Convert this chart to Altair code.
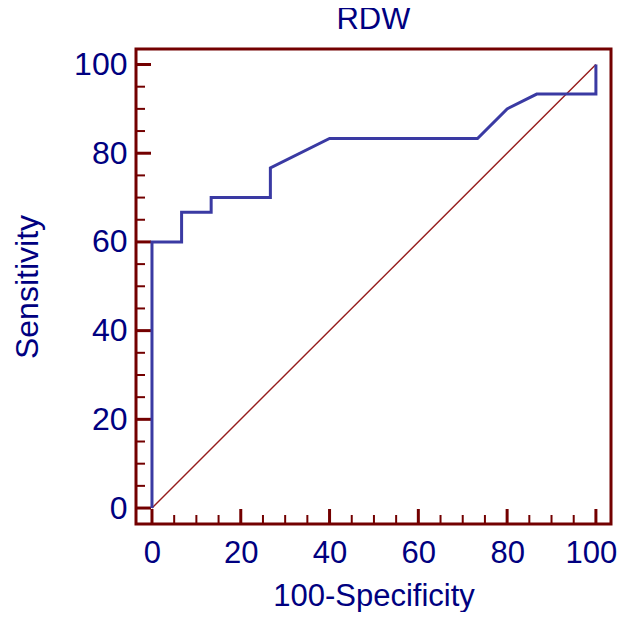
import altair as alt
import pandas as pd

# ROC curve points (100-Specificity, Sensitivity)
fpr = [0, 0, 6.67, 6.67, 13.33, 13.33, 26.67, 26.67, 40, 73.33, 80, 86.67, 100, 100]
tpr = [0, 60, 60, 66.67, 66.67, 70, 70, 76.67, 83.33, 83.33, 90, 93.33, 93.33, 100]
diag_x = [0, 100]
diag_y = [0, 100]
major_ticks = [0, 20, 40, 60, 80, 100]
minor_ticks = [5, 10, 15, 25, 30, 35, 45, 50, 55, 65, 70, 75, 85, 90, 95]

NAVY = "#000080"
MAROON = "#730000"
DIAG = "#961C1C"
BLUE = "#3A3AA3"
FONT = "Liberation Sans"
W, H = 475, 475

roc = pd.DataFrame({"x": fpr, "y": tpr, "o": list(range(len(fpr)))})
diag = pd.DataFrame({"x": diag_x, "y": diag_y})
maj = pd.DataFrame({"t": major_ticks})
mnr = pd.DataFrame({"t": minor_ticks})

xs = alt.Scale(domain=[-3.6, 103.4], nice=False, zero=False)
ys = alt.Scale(domain=[-3.6, 103.5], nice=False, zero=False)

xaxis = alt.Axis(values=major_ticks, title="100-Specificity", ticks=False, tickSize=0,
                 domain=False, grid=False, labelFont=FONT, labelFontSize=31,
                 labelColor=NAVY, labelPadding=14,
                 labelOffset={"condition": {"test": "datum.value == 100", "value": -5}, "value": 0},
                 titleFont=FONT, titleFontSize=31,
                 titleFontWeight="normal", titleColor=NAVY, titlePadding=13)
yaxis = alt.Axis(values=major_ticks, title="Sensitivity", ticks=False, tickSize=0,
                 domain=False, grid=False, labelFont=FONT, labelFontSize=32,
                 labelColor=NAVY, labelPadding=9, titleFont=FONT, titleFontSize=32,
                 titleFontWeight="normal", titleColor=NAVY, titlePadding=29)

diag_line = alt.Chart(diag).mark_line(color=DIAG, strokeWidth=1.4).encode(
    x=alt.X("x:Q", scale=xs, axis=xaxis),
    y=alt.Y("y:Q", scale=ys, axis=yaxis),
)
roc_line = alt.Chart(roc).mark_line(color=BLUE, strokeWidth=3).encode(
    x=alt.X("x:Q", scale=xs),
    y=alt.Y("y:Q", scale=ys),
    order="o:Q",
)
x_major = alt.Chart(maj).mark_rule(color=MAROON, strokeWidth=3).encode(
    x=alt.X("t:Q", scale=xs), y=alt.value(H), y2=alt.value(H - 15))
x_minor = alt.Chart(mnr).mark_rule(color=MAROON, strokeWidth=2).encode(
    x=alt.X("t:Q", scale=xs), y=alt.value(H), y2=alt.value(H - 9))
y_major = alt.Chart(maj).mark_rule(color=MAROON, strokeWidth=3).encode(
    y=alt.Y("t:Q", scale=ys), x=alt.value(0), x2=alt.value(15))
y_minor = alt.Chart(mnr).mark_rule(color=MAROON, strokeWidth=2).encode(
    y=alt.Y("t:Q", scale=ys), x=alt.value(0), x2=alt.value(9))

chart = alt.layer(diag_line, x_minor, x_major, y_minor, y_major, roc_line).properties(
    width=W, height=H,
    title=alt.TitleParams("RDW", font=FONT, fontSize=31, fontWeight="normal",
                          color=NAVY, anchor="middle", offset=13),
    autosize=alt.AutoSizeParams(type="none"),
    padding={"left": 128, "top": 41, "right": 6, "bottom": 88},
).configure(background="white").configure_view(stroke=MAROON, strokeWidth=3)

chart.save("out.html", embed_options={"renderer": "svg", "actions": False})
